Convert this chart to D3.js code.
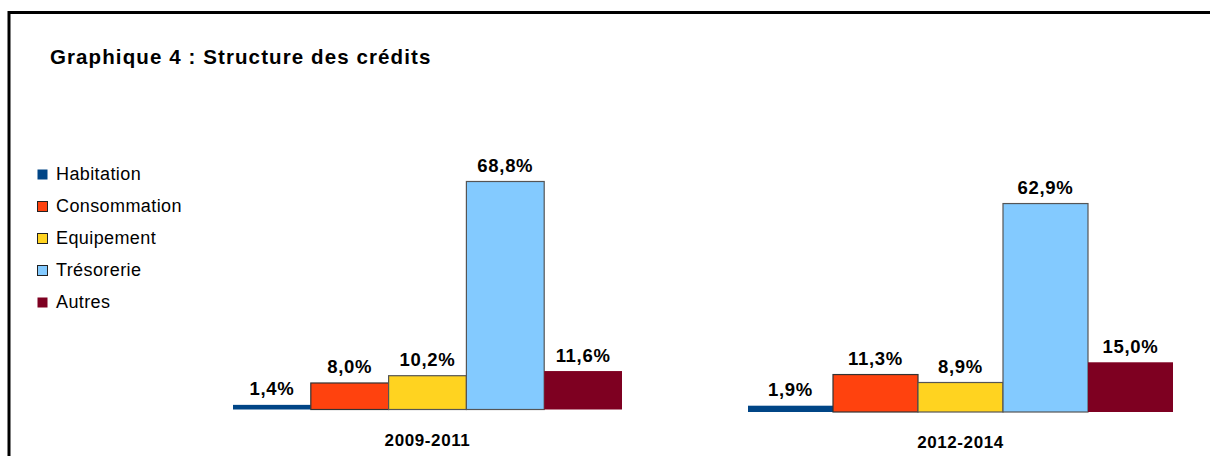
<!DOCTYPE html>
<html><head><meta charset="utf-8">
<script src="https://cdn.jsdelivr.net/npm/d3@7"></script>
<style>body{margin:0;background:#fff;}svg{display:block;font-family:"Liberation Sans",Arial,sans-serif;}</style>
</head><body>
<svg id="c" width="1210" height="456"></svg>
<script>
const categories = ["Habitation","Consommation","Equipement","Trésorerie","Autres"];
const periods = ["2009-2011","2012-2014"];
const values2009 = [1.4, 8.0, 10.2, 68.8, 11.6];
const values2012 = [1.9, 11.3, 8.9, 62.9, 15.0];
const colors = ["#004586","#ff420e","#ffd320","#83caff","#7e0021"];
const strokes = [null,"#333","#555","#555",null];

const svg = d3.select("#c");
svg.append("rect").attr("x",0).attr("y",0).attr("width",1210).attr("height",456).attr("fill","#fff");
// frame
svg.append("path").attr("d","M9,460 V12.5 H1215").attr("fill","none").attr("stroke","#000").attr("stroke-width",3);

svg.append("text").attr("x",50).attr("y",64).attr("font-size",20.5).attr("font-weight","bold")
  .attr("letter-spacing",1.1).text("Graphique 4 : Structure des crédits");

// legend
const leg = svg.append("g");
categories.forEach((c,i)=>{
  const y = 169 + i*32;
  leg.append("rect").attr("x",37.5).attr("y",y+0.5).attr("width",10).attr("height",10)
    .attr("fill",colors[i]).attr("stroke", strokes[i] ? "#222" : "none").attr("stroke-width",1);
  leg.append("text").attr("x",56).attr("y",y+11).attr("font-size",18).attr("letter-spacing",0.4).text(c);
});

const y = d3.scaleLinear().domain([0,68.8]).range([0,228]);
const groups = [
  {label:periods[0], vals:values2009, x0:233, x1:622, base:409.5, ly:446},
  {label:periods[1], vals:values2012, x0:748, x1:1173, base:412, ly:448}
];
groups.forEach(g=>{
  const x = d3.scaleBand().domain(categories).range([g.x0,g.x1]).padding(0);
  const gg = svg.append("g");
  categories.forEach((c,i)=>{
    const h = y(g.vals[i]);
    gg.append("rect").attr("x",x(c)).attr("y",g.base-h).attr("width",x.bandwidth()).attr("height",h)
      .attr("fill",colors[i]).attr("stroke",strokes[i]||"none").attr("stroke-width",1.2);
    gg.append("text").attr("x",x(c)+x.bandwidth()/2).attr("y",g.base-h-9.5)
      .attr("text-anchor","middle").attr("font-size",18.5).attr("font-weight","bold").attr("letter-spacing",0.7)
      .text(d3.format(".1f")(g.vals[i]).replace(".",",")+"%");
  });
  gg.append("text").attr("x",(g.x0+g.x1)/2).attr("y",g.ly).attr("text-anchor","middle")
    .attr("font-size",17).attr("font-weight","bold").attr("letter-spacing",0.6).text(g.label);
});
</script>
</body></html>
